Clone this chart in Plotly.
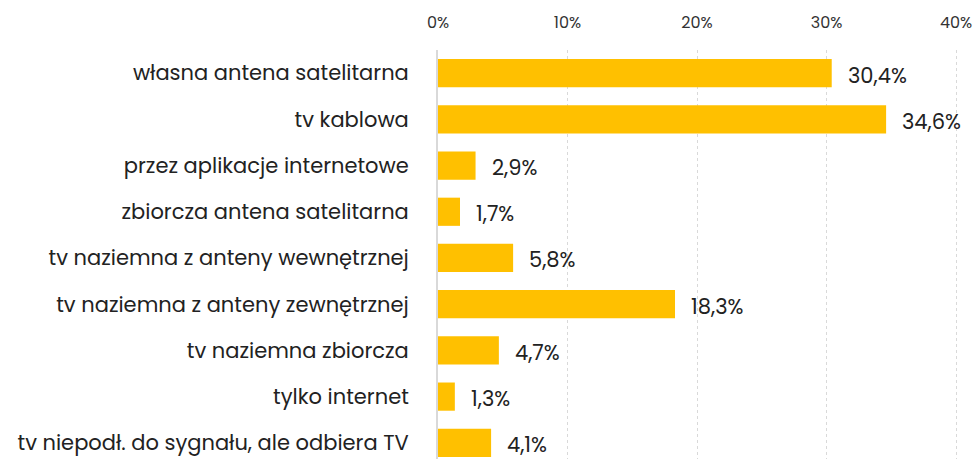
import plotly.graph_objects as go

categories = [
    "własna antena satelitarna",
    "tv kablowa",
    "przez aplikacje internetowe",
    "zbiorcza antena satelitarna",
    "tv naziemna z anteny wewnętrznej",
    "tv naziemna z anteny zewnętrznej",
    "tv naziemna zbiorcza",
    "tylko internet",
    "tv niepodł. do sygnału, ale odbiera TV",
]
values = [30.4, 34.6, 2.9, 1.7, 5.8, 18.3, 4.7, 1.3, 4.1]
tick_values = [0, 10, 20, 30, 40]
tick_labels = ["0%", "10%", "20%", "30%", "40%"]

FONT = "Poppins, Inter, 'Open Sans', sans-serif"
BAR_COLOR = "#FFC000"


def fmt(v):
    return f"{v:.1f}".replace(".", ",") + "%"


fig = go.Figure(
    go.Bar(
        x=values,
        y=categories,
        orientation="h",
        marker=dict(color=BAR_COLOR, line=dict(width=0)),
        width=0.61,
        hoverinfo="skip",
    )
)

# value labels to the right of each bar
for cat, v in zip(categories, values):
    fig.add_annotation(
        x=v, y=cat, text=fmt(v), showarrow=False,
        xanchor="left", yanchor="middle", xshift=14, yshift=-2,
        font=dict(family=FONT, size=21, color="#222222"),
    )

fig.update_layout(
    width=976,
    height=459,
    margin=dict(l=438, r=7, t=50, b=0),
    paper_bgcolor="white",
    plot_bgcolor="white",
    showlegend=False,
    font=dict(family=FONT, color="#222222"),
)

fig.update_xaxes(
    side="top",
    range=[0, 41],
    tickvals=tick_values,
    ticktext=tick_labels,
    tickfont=dict(family=FONT, size=16, color="#333333"),
    ticks="",
    ticklabelstandoff=18,
    showgrid=True,
    gridcolor="#d9d9d9",
    gridwidth=1,
    griddash="3px,3px",
    zeroline=False,
    showline=False,
    fixedrange=True,
)

fig.update_yaxes(
    categoryorder="array",
    categoryarray=categories,
    range=[8.35, -0.5],
    tickfont=dict(family=FONT, size=21, color="#222222"),
    ticks="",
    ticklabelstandoff=23,
    showgrid=False,
    showline=True,
    linecolor="#d9d9d9",
    linewidth=2,
    zeroline=False,
    fixedrange=True,
)

fig.write_html("out.html")
